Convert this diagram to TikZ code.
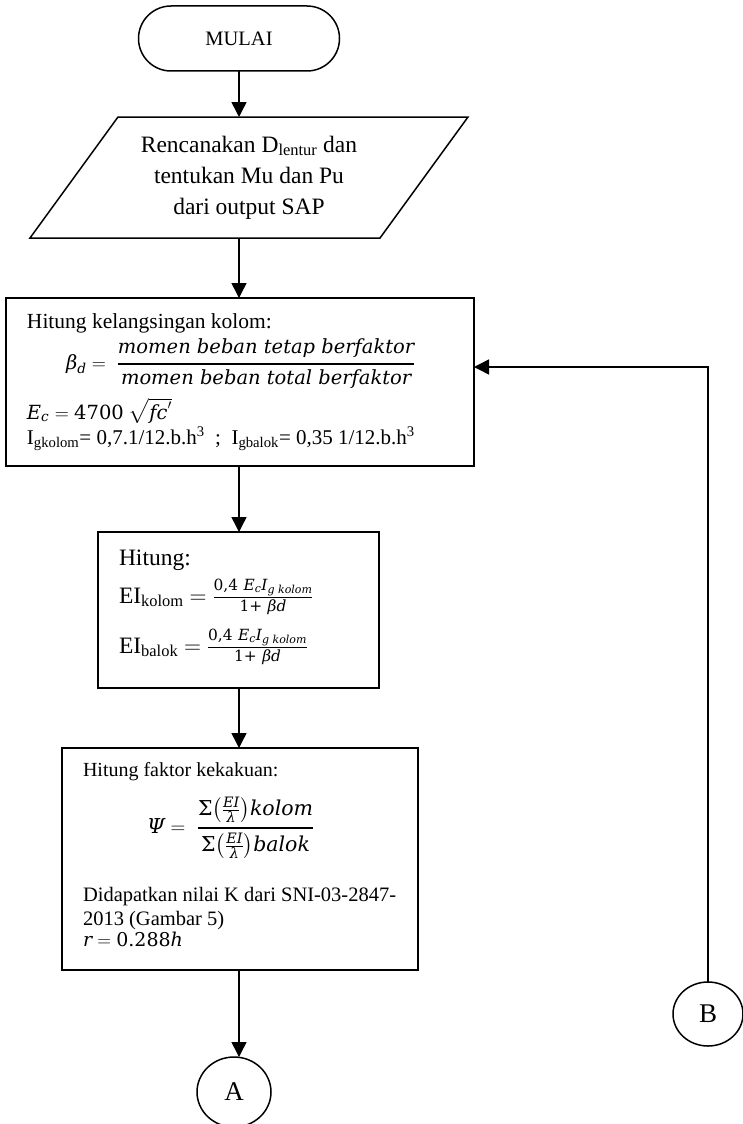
\RequirePackage{fix-cm}
\documentclass[tikz,border=0pt]{standalone}
\usepackage{amsmath}
\usepackage[no-math]{fontspec}
\setmainfont{Liberation Serif}
\newfontfamily\eqfont{DejaVu Serif}
\usetikzlibrary{shapes.geometric,shapes.misc,arrows.meta,calc}

\newcommand{\fsz}[1]{\fontsize{#1}{#1}\selectfont}
% italic and upright letters for the formulas
\newcommand{\mi}[1]{\text{\eqfont\itshape #1}}
\newcommand{\mr}[1]{\text{\eqfont #1}}
% zero-width strut with the given depth
\newcommand{\dstrut}[1]{\rule[-#1]{0pt}{#1}}
% stiffness formula EI = 0.4 Ec Ig / (1 + beta d)
\newcommand{\eiform}{{\fsz{22}$\genfrac{}{}{1.2pt}{1}{\mr{0,4}\ \mi{E}_{\mi{c}}\mi{I}_{\mi{g kolom}}}{\mr{1+}\ \mi{βd}}$}}
% sum (EI / lambda) term
\newcommand{\eil}{\mr{Σ}\bigl(\genfrac{}{}{0.9pt}{1}{\mi{EI}}{\mi{λ}}\bigr)}

\begin{document}
\begin{tikzpicture}[x=1pt,y=-1pt,
  every node/.style={inner sep=0pt, outer sep=0pt},
  box/.style={draw, rectangle, line width=1.6pt},
  arr/.style={line width=1.5pt, -{Triangle[length=15pt,width=15pt]}},
  txt/.style={anchor=base west},
  conn/.style={draw, ellipse, line width=1.5pt, font=\fsz{27}},
]
\useasboundingbox (0,0) rectangle (742,1124);

% start terminator
\node[draw, rounded rectangle, line width=1.5pt, minimum width=201pt,
      minimum height=65pt, font=\fsz{20.5}] (start) at (239,38.5) {MULAI};

% input parallelogram
\node[minimum width=350pt, minimum height=121pt, align=center,
      font=\fontsize{23.5}{31}\selectfont] (para) at (249,177.5)
  {Rencanakan D\textsubscript{lentur} dan\\tentukan Mu dan Pu\\dari output SAP};
\draw[line width=1.5pt] ([xshift=44pt]para.north west) -- ([xshift=44pt]para.north east)
  -- ([xshift=-44pt]para.south east) -- ([xshift=-44pt]para.south west) -- cycle;

% slenderness box
\node[box, minimum width=468pt, minimum height=168pt] (b1) at (240,382) {};
\node[txt, font=\fsz{21.5}] (b1a) at (27,328) {Hitung kelangsingan kolom:};
\node[txt, font=\fsz{19.5}] (b1b) at (66,369)
  {$\mi{β}_{\mi{d}} =\;\genfrac{}{}{1.6pt}{0}{\mi{momen beban tetap berfaktor}\dstrut{5.5pt}}{\mi{momen beban total berfaktor}}$};
\node[txt, font=\fsz{19.5}] (b1c) at (27,419) {$\mi{E}_{\mi{c}} = \mr{4700}\ \sqrt{\mi{fc}'}$};
\node[txt, font=\fsz{21}] (b1d) at (27,444)
  {I\textsubscript{gkolom}= 0,7.1/12.b.h\textsuperscript{3}\ \ ;\ \ I\textsubscript{gbalok}= 0,35 1/12.b.h\textsuperscript{3}};

% stiffness box
\node[box, minimum width=281pt, minimum height=156pt] (b2) at (238.5,610) {};
\node[txt, font=\fsz{23.5}] (b2a) at (119,565) {Hitung:};
\node[txt, font=\fsz{23.5}] (b2b) at (119,603) {EI\textsubscript{kolom} $=$ \eiform};
\node[txt, font=\fsz{23.5}] (b2c) at (119,653) {EI\textsubscript{balok} $=$ \eiform};

% restraint factor box
\node[box, minimum width=356pt, minimum height=222pt] (b3) at (240,859) {};
\node[txt, font=\fsz{20}] (b3a) at (83,776) {Hitung faktor kekakuan:};
\node[txt, font=\fsz{20.5}] (b3b) at (147,833)
  {$\mi{Ψ} =\;\genfrac{}{}{1.5pt}{0}{\eil\mi{kolom}\dstrut{3pt}}{\eil\mi{balok}}$};
\node[txt, font=\fsz{20.5}] (b3c) at (83,901) {Didapatkan nilai K dari SNI-03-2847-};
\node[txt, font=\fsz{20.5}] (b3d) at (83,925) {2013 (Gambar 5)};
\node[txt, font=\fsz{19}] (b3e) at (83,946) {$\mi{r} = \mr{0.288}\mi{h}$};

% off-page connectors
\node[conn, minimum width=74pt, minimum height=70pt] (A) at (234,1092) {A};
\node[conn, minimum width=70pt, minimum height=64pt] (B) at (708,1014) {B};

% flow
\draw[arr] (start.south) -- (start.south |- para.north);
\draw[arr] (start.south |- para.south) -- (start.south |- b1.north);
\draw[arr] (start.south |- b1.south) -- (start.south |- b2.north);
\draw[arr] (start.south |- b2.south) -- (start.south |- b3.north);
\draw[arr] (start.south |- b3.south) -- (start.south |- A.north);
\coordinate (loop) at (708,367);
\draw[arr] (B.north) -- (loop) -- (loop -| b1.east);
\end{tikzpicture}
\end{document}
